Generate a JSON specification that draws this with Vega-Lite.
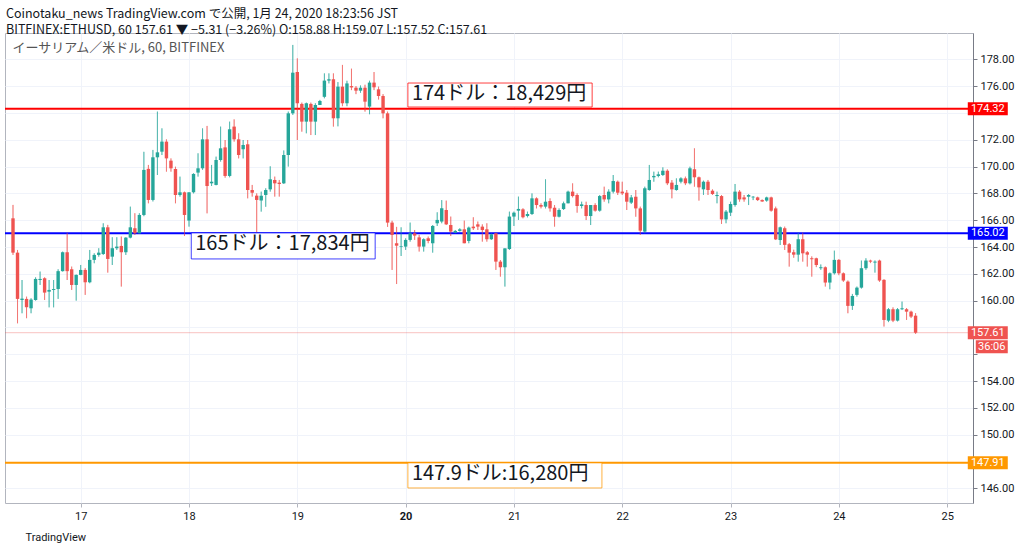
{
  "$schema": "https://vega.github.io/schema/vega-lite/v6.json",
  "width": 968,
  "height": 470,
  "autosize": {"type": "none"},
  "padding": {"left": 5, "top": 33, "right": 51, "bottom": 49},
  "background": "white",
  "title": {
    "text": [
      "Coinotaku_news TradingView.com で公開, 1月 24, 2020 18:23:56 JST",
      "BITFINEX:ETHUSD, 60 157.61 ▼ −5.31 (−3.26%) O:158.88 H:159.07 L:157.52 C:157.61"
    ],
    "subtitle": "\u200b\u2002イーサリアム／米ドル, 60, BITFINEX",
    "anchor": "start",
    "frame": "group",
    "offset": -22,
    "dx": 1,
    "font": "Noto Sans CJK JP",
    "fontSize": 12.5,
    "fontWeight": "normal",
    "color": "#131722",
    "lineHeight": 16,
    "subtitleFont": "Noto Sans CJK JP",
    "subtitleFontSize": 13,
    "subtitleColor": "#555555",
    "subtitlePadding": 6
  },
  "datasets": {
    "candles": [
      {"t": "2020-01-16T09:00", "o": 166.14, "h": 167.14, "l": 163.41, "c": 163.58},
      {"t": "2020-01-16T10:00", "o": 163.58, "h": 163.78, "l": 158.31, "c": 160.13},
      {"t": "2020-01-16T11:00", "o": 160.05, "h": 161.54, "l": 159.06, "c": 160.15},
      {"t": "2020-01-16T12:00", "o": 160.13, "h": 160.3, "l": 158.69, "c": 159.51},
      {"t": "2020-01-16T13:00", "o": 159.43, "h": 160.18, "l": 159.06, "c": 160.08},
      {"t": "2020-01-16T14:00", "o": 160.05, "h": 161.74, "l": 160.0, "c": 161.62},
      {"t": "2020-01-16T15:00", "o": 161.54, "h": 162.17, "l": 161.17, "c": 161.62},
      {"t": "2020-01-16T16:00", "o": 161.67, "h": 161.74, "l": 160.05, "c": 160.6},
      {"t": "2020-01-16T17:00", "o": 160.67, "h": 161.54, "l": 159.5, "c": 160.8},
      {"t": "2020-01-16T18:00", "o": 160.8, "h": 161.54, "l": 159.5, "c": 160.87},
      {"t": "2020-01-16T19:00", "o": 160.87, "h": 162.34, "l": 160.13, "c": 162.2},
      {"t": "2020-01-16T20:00", "o": 162.2, "h": 163.66, "l": 162.17, "c": 163.61},
      {"t": "2020-01-16T21:00", "o": 163.61, "h": 165.07, "l": 161.54, "c": 162.2},
      {"t": "2020-01-16T22:00", "o": 162.34, "h": 162.54, "l": 160.8, "c": 161.17},
      {"t": "2020-01-16T23:00", "o": 161.17, "h": 161.95, "l": 160.0, "c": 161.92},
      {"t": "2020-01-17T00:00", "o": 161.92, "h": 162.66, "l": 161.9, "c": 162.29},
      {"t": "2020-01-17T01:00", "o": 162.29, "h": 162.42, "l": 160.43, "c": 161.37},
      {"t": "2020-01-17T02:00", "o": 161.37, "h": 163.78, "l": 161.3, "c": 163.04},
      {"t": "2020-01-17T03:00", "o": 163.04, "h": 163.53, "l": 162.79, "c": 163.41},
      {"t": "2020-01-17T04:00", "o": 163.41, "h": 163.91, "l": 163.28, "c": 163.58},
      {"t": "2020-01-17T05:00", "o": 163.48, "h": 165.77, "l": 163.41, "c": 165.47},
      {"t": "2020-01-17T06:00", "o": 165.47, "h": 165.65, "l": 162.09, "c": 163.11},
      {"t": "2020-01-17T07:00", "o": 163.28, "h": 164.73, "l": 162.66, "c": 163.91},
      {"t": "2020-01-17T08:00", "o": 163.91, "h": 164.73, "l": 163.78, "c": 164.03},
      {"t": "2020-01-17T09:00", "o": 164.08, "h": 164.78, "l": 161.05, "c": 163.61},
      {"t": "2020-01-17T10:00", "o": 163.61, "h": 164.73, "l": 163.41, "c": 164.7},
      {"t": "2020-01-17T11:00", "o": 164.7, "h": 167.01, "l": 164.65, "c": 165.47},
      {"t": "2020-01-17T12:00", "o": 165.4, "h": 166.52, "l": 164.9, "c": 165.02},
      {"t": "2020-01-17T13:00", "o": 165.02, "h": 166.52, "l": 165.02, "c": 166.39},
      {"t": "2020-01-17T14:00", "o": 166.39, "h": 171.1, "l": 166.3, "c": 169.75},
      {"t": "2020-01-17T15:00", "o": 169.83, "h": 170.12, "l": 167.26, "c": 167.51},
      {"t": "2020-01-17T16:00", "o": 167.51, "h": 171.24, "l": 167.4, "c": 170.69},
      {"t": "2020-01-17T17:00", "o": 170.69, "h": 174.1, "l": 169.37, "c": 171.06},
      {"t": "2020-01-17T18:00", "o": 171.11, "h": 172.85, "l": 170.86, "c": 171.86},
      {"t": "2020-01-17T19:00", "o": 171.86, "h": 172.03, "l": 169.62, "c": 170.61},
      {"t": "2020-01-17T20:00", "o": 170.44, "h": 170.61, "l": 169.62, "c": 169.87},
      {"t": "2020-01-17T21:00", "o": 169.82, "h": 169.99, "l": 167.26, "c": 167.88},
      {"t": "2020-01-17T22:00", "o": 167.88, "h": 169.25, "l": 167.76, "c": 168.08},
      {"t": "2020-01-17T23:00", "o": 168.08, "h": 168.13, "l": 164.82, "c": 166.39},
      {"t": "2020-01-18T00:00", "o": 165.97, "h": 168.08, "l": 165.52, "c": 168.08},
      {"t": "2020-01-18T01:00", "o": 168.08, "h": 169.5, "l": 168.0, "c": 169.45},
      {"t": "2020-01-18T02:00", "o": 169.55, "h": 170.99, "l": 169.25, "c": 169.87},
      {"t": "2020-01-18T03:00", "o": 169.87, "h": 172.85, "l": 169.75, "c": 172.03},
      {"t": "2020-01-18T04:00", "o": 172.03, "h": 173.03, "l": 166.51, "c": 168.55},
      {"t": "2020-01-18T05:00", "o": 168.75, "h": 170.12, "l": 168.55, "c": 168.87},
      {"t": "2020-01-18T06:00", "o": 168.63, "h": 170.74, "l": 168.6, "c": 170.49},
      {"t": "2020-01-18T07:00", "o": 170.49, "h": 172.98, "l": 170.37, "c": 171.36},
      {"t": "2020-01-18T08:00", "o": 171.43, "h": 171.98, "l": 169.17, "c": 169.3},
      {"t": "2020-01-18T09:00", "o": 169.3, "h": 173.35, "l": 169.2, "c": 172.78},
      {"t": "2020-01-18T10:00", "o": 172.98, "h": 173.52, "l": 171.86, "c": 172.03},
      {"t": "2020-01-18T11:00", "o": 172.03, "h": 172.48, "l": 170.61, "c": 170.86},
      {"t": "2020-01-18T12:00", "o": 171.29, "h": 171.98, "l": 170.61, "c": 171.61},
      {"t": "2020-01-18T13:00", "o": 171.66, "h": 171.98, "l": 167.63, "c": 168.25},
      {"t": "2020-01-18T14:00", "o": 168.25, "h": 168.63, "l": 167.76, "c": 168.05},
      {"t": "2020-01-18T15:00", "o": 167.83, "h": 168.0, "l": 165.07, "c": 167.51},
      {"t": "2020-01-18T16:00", "o": 167.46, "h": 168.13, "l": 166.64, "c": 167.83},
      {"t": "2020-01-18T17:00", "o": 167.88, "h": 168.38, "l": 167.0, "c": 168.25},
      {"t": "2020-01-18T18:00", "o": 168.3, "h": 170.02, "l": 168.13, "c": 169.05},
      {"t": "2020-01-18T19:00", "o": 169.0, "h": 169.25, "l": 167.76, "c": 168.75},
      {"t": "2020-01-18T20:00", "o": 168.8, "h": 169.0, "l": 167.76, "c": 168.7},
      {"t": "2020-01-18T21:00", "o": 168.75, "h": 171.2, "l": 168.7, "c": 170.86},
      {"t": "2020-01-18T22:00", "o": 170.86, "h": 174.1, "l": 170.0, "c": 173.97},
      {"t": "2020-01-18T23:00", "o": 173.97, "h": 179.07, "l": 173.85, "c": 177.0},
      {"t": "2020-01-19T00:00", "o": 177.05, "h": 178.07, "l": 171.98, "c": 174.72},
      {"t": "2020-01-19T01:00", "o": 174.67, "h": 174.77, "l": 172.6, "c": 173.35},
      {"t": "2020-01-19T02:00", "o": 173.35, "h": 174.77, "l": 172.48, "c": 174.72},
      {"t": "2020-01-19T03:00", "o": 174.67, "h": 174.77, "l": 172.35, "c": 173.35},
      {"t": "2020-01-19T04:00", "o": 173.35, "h": 174.72, "l": 172.35, "c": 174.59},
      {"t": "2020-01-19T05:00", "o": 174.59, "h": 174.97, "l": 174.59, "c": 174.89},
      {"t": "2020-01-19T06:00", "o": 175.2, "h": 176.95, "l": 175.09, "c": 176.41},
      {"t": "2020-01-19T07:00", "o": 176.41, "h": 176.95, "l": 176.2, "c": 176.51},
      {"t": "2020-01-19T08:00", "o": 176.51, "h": 176.95, "l": 172.98, "c": 173.6},
      {"t": "2020-01-19T09:00", "o": 173.6, "h": 176.3, "l": 173.0, "c": 175.96},
      {"t": "2020-01-19T10:00", "o": 175.96, "h": 177.58, "l": 174.5, "c": 174.72},
      {"t": "2020-01-19T11:00", "o": 174.72, "h": 176.4, "l": 174.5, "c": 176.2},
      {"t": "2020-01-19T12:00", "o": 176.0, "h": 177.3, "l": 175.7, "c": 175.9},
      {"t": "2020-01-19T13:00", "o": 175.88, "h": 176.0, "l": 175.4, "c": 175.66},
      {"t": "2020-01-19T14:00", "o": 175.66, "h": 176.05, "l": 175.5, "c": 175.88},
      {"t": "2020-01-19T15:00", "o": 175.88, "h": 176.1, "l": 174.1, "c": 174.84},
      {"t": "2020-01-19T16:00", "o": 174.47, "h": 176.4, "l": 173.9, "c": 176.26},
      {"t": "2020-01-19T17:00", "o": 176.26, "h": 177.05, "l": 175.7, "c": 175.91},
      {"t": "2020-01-19T18:00", "o": 175.76, "h": 175.96, "l": 175.0, "c": 175.26},
      {"t": "2020-01-19T19:00", "o": 175.26, "h": 175.4, "l": 173.6, "c": 173.97},
      {"t": "2020-01-19T20:00", "o": 173.97, "h": 174.1, "l": 165.5, "c": 165.82},
      {"t": "2020-01-19T21:00", "o": 165.82, "h": 165.96, "l": 162.29, "c": 164.9},
      {"t": "2020-01-19T22:00", "o": 164.28, "h": 165.5, "l": 161.24, "c": 164.1},
      {"t": "2020-01-19T23:00", "o": 164.0, "h": 165.47, "l": 163.33, "c": 164.05},
      {"t": "2020-01-20T00:00", "o": 164.03, "h": 164.65, "l": 163.78, "c": 164.53},
      {"t": "2020-01-20T01:00", "o": 164.53, "h": 165.82, "l": 164.4, "c": 165.02},
      {"t": "2020-01-20T02:00", "o": 165.02, "h": 165.27, "l": 164.53, "c": 164.85},
      {"t": "2020-01-20T03:00", "o": 164.72, "h": 164.9, "l": 163.66, "c": 164.03},
      {"t": "2020-01-20T04:00", "o": 164.03, "h": 164.65, "l": 163.66, "c": 164.58},
      {"t": "2020-01-20T05:00", "o": 164.65, "h": 164.78, "l": 164.28, "c": 164.45},
      {"t": "2020-01-20T06:00", "o": 164.28, "h": 165.64, "l": 163.58, "c": 165.57},
      {"t": "2020-01-20T07:00", "o": 165.77, "h": 166.59, "l": 165.57, "c": 166.02},
      {"t": "2020-01-20T08:00", "o": 165.9, "h": 167.5, "l": 165.77, "c": 166.89},
      {"t": "2020-01-20T09:00", "o": 166.76, "h": 167.46, "l": 165.64, "c": 165.69},
      {"t": "2020-01-20T10:00", "o": 165.64, "h": 166.27, "l": 164.82, "c": 165.15},
      {"t": "2020-01-20T11:00", "o": 165.07, "h": 165.27, "l": 165.02, "c": 165.2},
      {"t": "2020-01-20T12:00", "o": 165.2, "h": 165.4, "l": 165.15, "c": 165.32},
      {"t": "2020-01-20T13:00", "o": 165.32, "h": 165.97, "l": 164.28, "c": 164.28},
      {"t": "2020-01-20T14:00", "o": 164.45, "h": 165.52, "l": 164.28, "c": 165.45},
      {"t": "2020-01-20T15:00", "o": 165.52, "h": 166.22, "l": 165.27, "c": 165.4},
      {"t": "2020-01-20T16:00", "o": 165.69, "h": 165.9, "l": 165.27, "c": 165.52},
      {"t": "2020-01-20T17:00", "o": 165.52, "h": 165.69, "l": 164.4, "c": 165.27},
      {"t": "2020-01-20T18:00", "o": 165.32, "h": 165.77, "l": 164.4, "c": 164.58},
      {"t": "2020-01-20T19:00", "o": 164.58, "h": 165.02, "l": 164.53, "c": 164.95},
      {"t": "2020-01-20T20:00", "o": 165.02, "h": 165.07, "l": 162.29, "c": 162.91},
      {"t": "2020-01-20T21:00", "o": 162.91, "h": 163.03, "l": 161.79, "c": 162.49},
      {"t": "2020-01-20T22:00", "o": 162.49, "h": 163.9, "l": 161.05, "c": 163.9},
      {"t": "2020-01-20T23:00", "o": 163.85, "h": 166.64, "l": 163.78, "c": 166.27},
      {"t": "2020-01-21T00:00", "o": 166.27, "h": 166.64, "l": 165.57, "c": 166.56},
      {"t": "2020-01-21T01:00", "o": 166.71, "h": 167.76, "l": 166.02, "c": 166.84},
      {"t": "2020-01-21T02:00", "o": 166.81, "h": 166.89, "l": 166.14, "c": 166.22},
      {"t": "2020-01-21T03:00", "o": 166.31, "h": 166.64, "l": 166.21, "c": 166.46},
      {"t": "2020-01-21T04:00", "o": 166.46, "h": 168.0, "l": 166.39, "c": 167.63},
      {"t": "2020-01-21T05:00", "o": 167.63, "h": 167.7, "l": 166.88, "c": 167.13},
      {"t": "2020-01-21T06:00", "o": 167.13, "h": 167.26, "l": 166.88, "c": 167.01},
      {"t": "2020-01-21T07:00", "o": 167.01, "h": 169.05, "l": 166.88, "c": 167.38},
      {"t": "2020-01-21T08:00", "o": 167.43, "h": 167.63, "l": 166.64, "c": 166.88},
      {"t": "2020-01-21T09:00", "o": 166.93, "h": 167.13, "l": 165.52, "c": 166.26},
      {"t": "2020-01-21T10:00", "o": 166.26, "h": 166.88, "l": 166.21, "c": 166.76},
      {"t": "2020-01-21T11:00", "o": 166.83, "h": 167.38, "l": 166.76, "c": 167.26},
      {"t": "2020-01-21T12:00", "o": 167.26, "h": 168.2, "l": 167.26, "c": 168.13},
      {"t": "2020-01-21T13:00", "o": 168.13, "h": 168.75, "l": 167.7, "c": 167.8},
      {"t": "2020-01-21T14:00", "o": 167.88, "h": 168.0, "l": 166.56, "c": 167.06},
      {"t": "2020-01-21T15:00", "o": 167.06, "h": 167.38, "l": 166.88, "c": 167.18},
      {"t": "2020-01-21T16:00", "o": 167.13, "h": 167.38, "l": 166.01, "c": 166.31},
      {"t": "2020-01-21T17:00", "o": 166.31, "h": 167.13, "l": 165.64, "c": 167.13},
      {"t": "2020-01-21T18:00", "o": 167.13, "h": 167.26, "l": 166.64, "c": 166.71},
      {"t": "2020-01-21T19:00", "o": 166.71, "h": 167.88, "l": 166.64, "c": 167.8},
      {"t": "2020-01-21T20:00", "o": 167.88, "h": 168.5, "l": 167.38, "c": 167.55},
      {"t": "2020-01-21T21:00", "o": 167.55, "h": 168.3, "l": 167.26, "c": 168.13},
      {"t": "2020-01-21T22:00", "o": 168.13, "h": 169.37, "l": 168.0, "c": 168.92},
      {"t": "2020-01-21T23:00", "o": 168.87, "h": 168.95, "l": 167.88, "c": 168.05},
      {"t": "2020-01-22T00:00", "o": 168.13, "h": 168.87, "l": 167.88, "c": 168.0},
      {"t": "2020-01-22T01:00", "o": 168.05, "h": 168.25, "l": 166.76, "c": 167.38},
      {"t": "2020-01-22T02:00", "o": 167.31, "h": 167.88, "l": 167.21, "c": 167.7},
      {"t": "2020-01-22T03:00", "o": 167.75, "h": 168.25, "l": 166.26, "c": 166.88},
      {"t": "2020-01-22T04:00", "o": 166.88, "h": 167.01, "l": 164.9, "c": 165.22},
      {"t": "2020-01-22T05:00", "o": 165.15, "h": 168.5, "l": 165.02, "c": 168.38},
      {"t": "2020-01-22T06:00", "o": 168.25, "h": 170.12, "l": 168.2, "c": 169.0},
      {"t": "2020-01-22T07:00", "o": 169.2, "h": 169.62, "l": 168.87, "c": 169.3},
      {"t": "2020-01-22T08:00", "o": 169.3, "h": 169.62, "l": 169.2, "c": 169.42},
      {"t": "2020-01-22T09:00", "o": 169.37, "h": 169.94, "l": 169.3, "c": 169.69},
      {"t": "2020-01-22T10:00", "o": 169.69, "h": 169.79, "l": 168.62, "c": 168.75},
      {"t": "2020-01-22T11:00", "o": 168.8, "h": 168.99, "l": 167.63, "c": 168.3},
      {"t": "2020-01-22T12:00", "o": 168.25, "h": 169.12, "l": 168.2, "c": 168.63},
      {"t": "2020-01-22T13:00", "o": 168.87, "h": 169.2, "l": 168.75, "c": 169.12},
      {"t": "2020-01-22T14:00", "o": 169.12, "h": 169.25, "l": 168.62, "c": 168.75},
      {"t": "2020-01-22T15:00", "o": 168.75, "h": 169.99, "l": 168.67, "c": 169.87},
      {"t": "2020-01-22T16:00", "o": 169.8, "h": 171.36, "l": 168.5, "c": 169.2},
      {"t": "2020-01-22T17:00", "o": 169.2, "h": 169.25, "l": 167.46, "c": 168.45},
      {"t": "2020-01-22T18:00", "o": 168.3, "h": 168.95, "l": 167.88, "c": 168.87},
      {"t": "2020-01-22T19:00", "o": 168.87, "h": 169.0, "l": 167.88, "c": 168.25},
      {"t": "2020-01-22T20:00", "o": 168.2, "h": 168.3, "l": 167.88, "c": 167.95},
      {"t": "2020-01-22T21:00", "o": 167.8, "h": 168.13, "l": 167.26, "c": 167.88},
      {"t": "2020-01-22T22:00", "o": 167.8, "h": 167.88, "l": 165.72, "c": 166.06},
      {"t": "2020-01-22T23:00", "o": 166.06, "h": 166.76, "l": 165.77, "c": 166.64},
      {"t": "2020-01-23T00:00", "o": 166.56, "h": 167.38, "l": 166.31, "c": 167.21},
      {"t": "2020-01-23T01:00", "o": 167.13, "h": 168.7, "l": 167.01, "c": 168.13},
      {"t": "2020-01-23T02:00", "o": 168.13, "h": 168.25, "l": 167.38, "c": 167.55},
      {"t": "2020-01-23T03:00", "o": 167.7, "h": 167.88, "l": 167.38, "c": 167.55},
      {"t": "2020-01-23T04:00", "o": 167.75, "h": 167.95, "l": 167.13, "c": 167.88},
      {"t": "2020-01-23T05:00", "o": 167.7, "h": 167.8, "l": 167.5, "c": 167.75},
      {"t": "2020-01-23T06:00", "o": 167.7, "h": 167.75, "l": 167.43, "c": 167.5},
      {"t": "2020-01-23T07:00", "o": 167.5, "h": 167.55, "l": 167.36, "c": 167.4},
      {"t": "2020-01-23T08:00", "o": 167.46, "h": 167.75, "l": 167.38, "c": 167.7},
      {"t": "2020-01-23T09:00", "o": 167.7, "h": 167.75, "l": 166.64, "c": 166.71},
      {"t": "2020-01-23T10:00", "o": 166.88, "h": 167.01, "l": 164.52, "c": 164.57},
      {"t": "2020-01-23T11:00", "o": 164.52, "h": 165.52, "l": 164.15, "c": 165.47},
      {"t": "2020-01-23T12:00", "o": 165.4, "h": 165.52, "l": 163.78, "c": 164.16},
      {"t": "2020-01-23T13:00", "o": 164.21, "h": 164.3, "l": 162.54, "c": 163.58},
      {"t": "2020-01-23T14:00", "o": 163.61, "h": 163.8, "l": 163.2, "c": 163.43},
      {"t": "2020-01-23T15:00", "o": 163.43, "h": 165.08, "l": 162.91, "c": 164.58},
      {"t": "2020-01-23T16:00", "o": 164.58, "h": 165.08, "l": 162.91, "c": 163.53},
      {"t": "2020-01-23T17:00", "o": 163.61, "h": 163.7, "l": 162.54, "c": 163.43},
      {"t": "2020-01-23T18:00", "o": 163.16, "h": 163.3, "l": 161.79, "c": 163.09},
      {"t": "2020-01-23T19:00", "o": 163.16, "h": 163.2, "l": 162.5, "c": 162.66},
      {"t": "2020-01-23T20:00", "o": 162.42, "h": 162.7, "l": 162.3, "c": 162.49},
      {"t": "2020-01-23T21:00", "o": 162.49, "h": 162.55, "l": 161.05, "c": 161.35},
      {"t": "2020-01-23T22:00", "o": 161.35, "h": 162.1, "l": 160.85, "c": 162.04},
      {"t": "2020-01-23T23:00", "o": 162.04, "h": 163.73, "l": 161.95, "c": 163.04},
      {"t": "2020-01-24T00:00", "o": 163.04, "h": 163.1, "l": 161.9, "c": 162.04},
      {"t": "2020-01-24T01:00", "o": 162.04, "h": 162.1, "l": 161.4, "c": 161.5},
      {"t": "2020-01-24T02:00", "o": 161.42, "h": 161.5, "l": 159.06, "c": 159.61},
      {"t": "2020-01-24T03:00", "o": 159.61, "h": 160.5, "l": 159.31, "c": 160.35},
      {"t": "2020-01-24T04:00", "o": 160.43, "h": 161.05, "l": 160.3, "c": 160.97},
      {"t": "2020-01-24T05:00", "o": 160.97, "h": 162.99, "l": 160.9, "c": 162.42},
      {"t": "2020-01-24T06:00", "o": 162.42, "h": 163.16, "l": 162.3, "c": 162.99},
      {"t": "2020-01-24T07:00", "o": 162.99, "h": 163.05, "l": 162.8, "c": 162.91},
      {"t": "2020-01-24T08:00", "o": 162.84, "h": 163.0, "l": 162.09, "c": 162.91},
      {"t": "2020-01-24T09:00", "o": 162.99, "h": 163.05, "l": 161.4, "c": 161.5},
      {"t": "2020-01-24T10:00", "o": 161.55, "h": 161.6, "l": 158.07, "c": 158.56},
      {"t": "2020-01-24T11:00", "o": 158.51, "h": 159.45, "l": 158.4, "c": 159.36},
      {"t": "2020-01-24T12:00", "o": 159.36, "h": 159.5, "l": 158.4, "c": 158.51},
      {"t": "2020-01-24T13:00", "o": 158.51, "h": 159.45, "l": 158.45, "c": 159.36},
      {"t": "2020-01-24T14:00", "o": 159.36, "h": 159.93, "l": 159.3, "c": 159.43},
      {"t": "2020-01-24T15:00", "o": 159.36, "h": 159.45, "l": 158.56, "c": 159.18},
      {"t": "2020-01-24T16:00", "o": 159.18, "h": 159.25, "l": 158.7, "c": 158.81},
      {"t": "2020-01-24T17:00", "o": 158.88, "h": 159.07, "l": 157.52, "c": 157.61}
    ],
    "levels": [
      {"level": "174.32", "p": 174.32},
      {"level": "165.02", "p": 165.02},
      {"level": "157.61", "p": 157.61},
      {"level": "147.91", "p": 147.91}
    ],
    "notes": [
      {"level": "174.32", "label": "174ドル：18,429円", "t0": "2020-01-20T00:30", "t1": "2020-01-21T17:20", "lo": 174.44, "hi": 176.23},
      {"level": "165.02", "label": "165ドル：17,834円", "t0": "2020-01-18T00:30", "t1": "2020-01-19T17:15", "lo": 163.11, "hi": 165.05},
      {"level": "147.91", "label": "147.9ドル:16,280円", "t0": "2020-01-20T00:30", "t1": "2020-01-21T19:30", "lo": 146.03, "hi": 147.9}
    ],
    "countdown": [
      {"p": 157.61, "label": "36:06"}
    ]
  },
  "layer": [
    {
      "data": {"name": "candles"},
      "mark": {"type": "rule", "strokeWidth": 1, "opacity": 0.55},
      "encoding": {
        "x": {
          "field": "t",
          "type": "temporal",
          "scale": {"domain": [{"year": 2020, "month": 1, "date": 16, "hours": 8, "minutes": 20}, {"year": 2020, "month": 1, "date": 25, "hours": 4, "minutes": 37}], "nice": false},
          "axis": {
            "title": "TradingView",
            "titleAnchor": "start",
            "titleAlign": "left",
            "titleX": 20,
            "titleY": 34,
            "titleBaseline": "middle",
            "titleFont": "Roboto",
            "titleFontSize": 11,
            "titleFontWeight": "normal",
            "titleColor": "#131722",
            "format": "%-d",
            "tickCount": {"interval": "day", "step": 1},
            "labelFont": "Roboto",
            "labelFontSize": 11,
            "labelColor": "#131722",
            "labelFontWeight": {"condition": {"test": "date(datum.value) == 20", "value": "bold"}, "value": "normal"},
            "labelPadding": 3,
            "grid": true,
            "gridColor": "#f0f3fa",
            "domain": false,
            "ticks": true,
            "tickColor": "#b2b5be",
            "tickSize": 4
          }
        },
        "y": {
          "field": "l",
          "type": "quantitative",
          "scale": {"domain": [144.91, 179.96], "nice": false, "zero": false},
          "axis": {
            "orient": "right",
            "title": null,
            "tickCount": 18,
            "labelExpr": "indexof([174, 158, 156, 148], datum.value) >= 0 ? '' : format(datum.value, '.2f')",
            "labelOverlap": false,
            "labelSeparation": 0,
            "labelFont": "Roboto",
            "labelFontSize": 11,
            "labelColor": "#131722",
            "labelPadding": 3,
            "grid": true,
            "gridColor": "#f0f3fa",
            "domain": true,
            "domainColor": "#787b86",
            "ticks": true,
            "tickColor": "#787b86",
            "tickSize": 4
          }
        },
        "y2": {"field": "h"},
        "color": {"condition": {"test": "datum.c >= datum.o", "value": "#26a69a"}, "value": "#ef5350"}
      }
    },
    {
      "data": {"name": "levels"},
      "transform": [{"filter": "datum.level != '157.61'"}],
      "mark": {"type": "rule"},
      "encoding": {
        "y": {"field": "p", "type": "quantitative"},
        "color": {"field": "level", "type": "nominal", "scale": {"domain": ["174.32", "165.02", "157.61", "147.91"], "range": ["#ff0000", "#0000ff", "#ef5350", "#ff9800"]}, "legend": null},
        "strokeWidth": {"field": "level", "type": "ordinal", "scale": {"domain": ["174.32", "165.02", "147.91"], "range": [2, 2, 1.5]}, "legend": null}
      }
    },
    {
      "data": {"name": "levels"},
      "transform": [{"filter": "datum.level == '157.61'"}],
      "mark": {"type": "rule", "color": "#ef5350", "strokeWidth": 1, "opacity": 0.35},
      "encoding": {
        "y": {"field": "p", "type": "quantitative"}
      }
    },
    {
      "data": {"name": "candles"},
      "mark": {"type": "rule", "strokeWidth": 1, "opacity": 0.55},
      "encoding": {
        "x": {"field": "t", "type": "temporal"},
        "y": {"field": "l", "type": "quantitative"},
        "y2": {"field": "h"},
        "color": {"condition": {"test": "datum.c >= datum.o", "value": "#26a69a"}, "value": "#ef5350"}
      }
    },
    {
      "data": {"name": "candles"},
      "mark": {"type": "bar", "size": 3.4},
      "encoding": {
        "x": {"field": "t", "type": "temporal"},
        "y": {"field": "o", "type": "quantitative"},
        "y2": {"field": "c"},
        "color": {"condition": {"test": "datum.c >= datum.o", "value": "#26a69a"}, "value": "#ef5350"}
      }
    },
    {
      "data": {"name": "notes"},
      "mark": {"type": "rect", "fill": "white", "strokeWidth": 1, "strokeOpacity": 0.75},
      "encoding": {
        "x": {"field": "t0", "type": "temporal"},
        "x2": {"field": "t1"},
        "y": {"field": "lo", "type": "quantitative"},
        "y2": {"field": "hi"},
        "stroke": {"field": "level", "type": "nominal", "scale": {"domain": ["174.32", "165.02", "147.91"], "range": ["#ff0000", "#0000ff", "#ff9800"]}, "legend": null}
      }
    },
    {
      "data": {"name": "notes"},
      "mark": {"type": "text", "align": "left", "baseline": "top", "dx": 4, "dy": 1, "font": "Noto Sans CJK JP", "fontSize": 20, "color": "#131722"},
      "encoding": {
        "x": {"field": "t0", "type": "temporal"},
        "y": {"field": "hi", "type": "quantitative"},
        "text": {"field": "label"}
      }
    },
    {
      "data": {"name": "levels"},
      "mark": {"type": "point", "shape": "M-3.077,-1H3.077V1H-3.077Z", "size": 169, "filled": true, "opacity": 1, "strokeWidth": 0},
      "encoding": {
        "x": {"datum": {"year": 2020, "month": 1, "date": 25, "hours": 9}, "type": "temporal"},
        "y": {"field": "p", "type": "quantitative"},
        "color": {"field": "level", "type": "nominal", "scale": {"domain": ["174.32", "165.02", "157.61", "147.91"], "range": ["#ff0000", "#0000ff", "#ef5350", "#ff9800"]}, "legend": null}
      }
    },
    {
      "data": {"name": "countdown"},
      "mark": {"type": "point", "shape": "M-2.46,-1H2.46V1H-2.46Z", "size": 169, "filled": true, "opacity": 1, "strokeWidth": 0, "color": "#ef5350", "xOffset": 4, "yOffset": 14},
      "encoding": {
        "x": {"datum": {"year": 2020, "month": 1, "date": 25, "hours": 9}, "type": "temporal"},
        "y": {"field": "p", "type": "quantitative"}
      }
    },
    {
      "data": {"name": "levels"},
      "mark": {"type": "text", "align": "center", "baseline": "middle", "font": "Roboto", "fontSize": 11, "color": "white"},
      "encoding": {
        "x": {"datum": {"year": 2020, "month": 1, "date": 25, "hours": 9}, "type": "temporal"},
        "y": {"field": "p", "type": "quantitative"},
        "text": {"field": "p", "type": "quantitative", "format": ".2f"}
      }
    },
    {
      "data": {"name": "countdown"},
      "mark": {"type": "text", "align": "center", "baseline": "middle", "font": "Roboto", "fontSize": 11, "color": "white", "xOffset": 4, "yOffset": 14},
      "encoding": {
        "x": {"datum": {"year": 2020, "month": 1, "date": 25, "hours": 9}, "type": "temporal"},
        "y": {"field": "p", "type": "quantitative"},
        "text": {"field": "label"}
      }
    }
  ],
  "config": {
    "view": {"stroke": "#b2b5be", "strokeWidth": 1},
    "axis": {"labelOverlap": false},
    "axisY": {"labelOverlap": false},
    "axisRight": {"labelOverlap": false}
  }
}
